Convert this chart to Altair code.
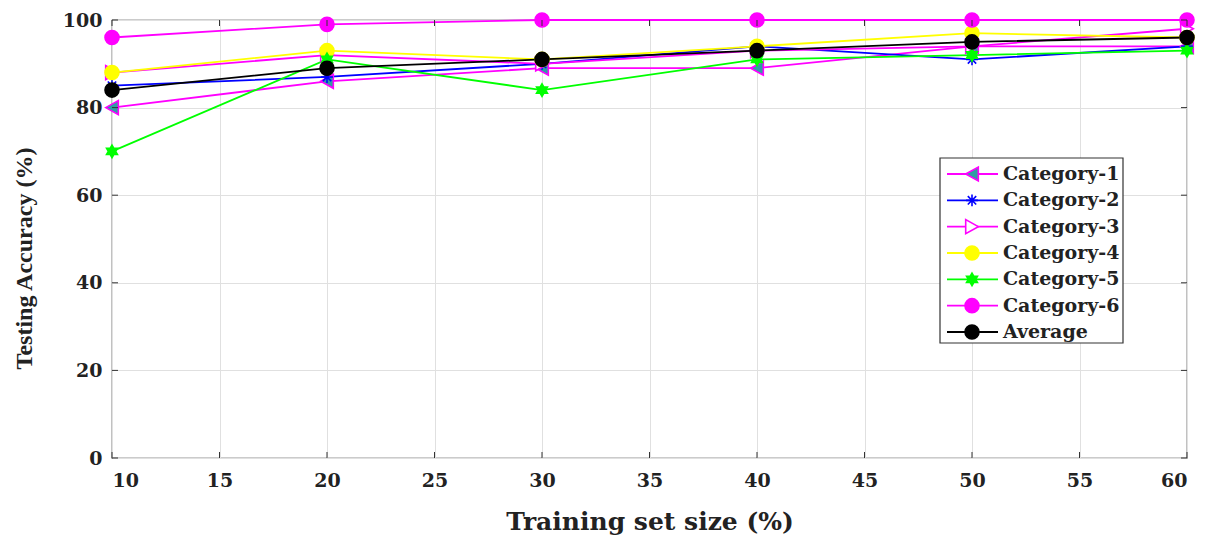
import altair as alt
import pandas as pd

# ---- data ----
train_sizes = [10, 20, 30, 40, 50, 60]
names = ["Category-1", "Category-2", "Category-3", "Category-4", "Category-5", "Category-6", "Average"]
cat1 = [80, 86, 89, 89, 94, 94]
cat2 = [85, 87, 90, 94, 91, 94]
cat3 = [88, 92, 90, 93, 94, 98]
cat4 = [88, 93, 91, 94, 97, 96]
cat5 = [70, 91, 84, 91, 92, 93]
cat6 = [96, 99, 100, 100, 100, 100]
average = [84, 89, 91, 93, 95, 96]

x_ticks = [10, 15, 20, 25, 30, 35, 40, 45, 50, 55, 60]
y_ticks = [0, 20, 40, 60, 80, 100]

# ---- styles ----
line_colors = ["#ff00ff", "#0000ff", "#ff00ff", "#ffff00", "#00ff00", "#ff00ff", "#000000"]
fill_colors = ["#2f9ea3", "transparent", "#ffffff", "#ffff00", "#00ff00", "#ff00ff", "#000000"]
shapes = [
    "M-0.9,0L0.9,-1L0.9,1Z",
    "M0,-0.85V0.85M-0.85,0H0.85M-0.6,-0.6L0.6,0.6M-0.6,0.6L0.6,-0.6",
    "M0.9,0L-0.9,-1L-0.9,1Z",
    "circle",
    "M0,-0.9L0.78,0.45L-0.78,0.45Z M0,0.9L-0.78,-0.45L0.78,-0.45Z",
    "circle",
    "circle",
]
FONT_WIDE = "DejaVu Serif"
FONT_Y = "Liberation Serif"
W, H = 1075, 438

series_values = [cat1, cat2, cat3, cat4, cat5, cat6, average]
rows = []
for name, vals in zip(names, series_values):
    for s, v in zip(train_sizes, vals):
        rows.append({"size": s, "acc": v, "series": name})
df = pd.DataFrame(rows)

x_scale = alt.Scale(domain=[10, 60], nice=False, zero=False)
y_scale = alt.Scale(domain=[0, 100], nice=False)

stroke_enc = alt.Stroke("series:N", scale=alt.Scale(domain=names, range=line_colors), legend=None)
fill_enc = alt.Fill("series:N", scale=alt.Scale(domain=names, range=fill_colors), legend=None)
shape_enc = alt.Shape("series:N", scale=alt.Scale(domain=names, range=shapes), legend=None)

x_enc = alt.X("size:Q", scale=x_scale,
              axis=alt.Axis(values=x_ticks, title="Training set size (%)", grid=True,
                            ticks=False, domain=False, labelPadding=13, titlePadding=19,
                            titleFont=FONT_WIDE, titleFontSize=25))
y_enc = alt.Y("acc:Q", scale=y_scale,
              axis=alt.Axis(values=y_ticks, title="Testing Accuracy (%)", grid=True,
                            ticks=False, domain=False, labelPadding=10, titlePadding=26,
                            titleFont=FONT_Y, titleFontSize=24, titleY=238))

lines = alt.Chart(df).mark_line(strokeWidth=1.8).encode(
    x=x_enc, y=y_enc, stroke=stroke_enc, detail="series:N")
points = alt.Chart(df).mark_point(opacity=1, fillOpacity=1, strokeWidth=1.6, size=196).encode(
    x=alt.X("size:Q", scale=x_scale),
    y=alt.Y("acc:Q", scale=y_scale),
    stroke=stroke_enc, fill=fill_enc, shape=shape_enc)

xt_df = pd.DataFrame({"size": x_ticks})
yt_df = pd.DataFrame({"acc": y_ticks})
tick_color = "#333333"
xt_bottom = alt.Chart(xt_df).mark_rule(color=tick_color).encode(
    x=alt.X("size:Q", scale=x_scale), y=alt.value(H), y2=alt.value(H - 6))
xt_top = alt.Chart(xt_df).mark_rule(color=tick_color).encode(
    x=alt.X("size:Q", scale=x_scale), y=alt.value(0), y2=alt.value(6))
yt_left = alt.Chart(yt_df).mark_rule(color=tick_color).encode(
    y=alt.Y("acc:Q", scale=y_scale), x=alt.value(0), x2=alt.value(6))
yt_right = alt.Chart(yt_df).mark_rule(color=tick_color).encode(
    y=alt.Y("acc:Q", scale=y_scale), x=alt.value(W), x2=alt.value(W - 6))

main = alt.layer(lines, points, xt_bottom, xt_top, yt_left, yt_right)

# ---- legend drawn inside the plot ----
leg_df = pd.DataFrame({"series": names})
leg_y = alt.Y("series:N", sort=names,
              scale=alt.Scale(type="point", domain=names, range=[154, 312], padding=0),
              axis=None)
leg_box = alt.Chart(pd.DataFrame({"k": [0]})).mark_rect(
    fill="white", stroke="#333333", strokeWidth=1.2).encode(
    x=alt.value(828), x2=alt.value(1011), y=alt.value(138), y2=alt.value(323))
leg_rule = alt.Chart(leg_df).mark_rule(strokeWidth=1.8).encode(
    y=leg_y, x=alt.value(835), x2=alt.value(886), stroke=stroke_enc)
leg_pts = alt.Chart(leg_df).mark_point(opacity=1, fillOpacity=1, strokeWidth=1.6, size=196).encode(
    y=leg_y, x=alt.value(860), stroke=stroke_enc, fill=fill_enc, shape=shape_enc)
leg_txt = alt.Chart(leg_df).mark_text(
    align="left", baseline="middle", font=FONT_WIDE, fontSize=19, fontWeight="bold", color="#222222").encode(
    y=leg_y, x=alt.value(891), text="series:N")
legend = alt.layer(leg_box, leg_rule, leg_pts, leg_txt)

chart = alt.layer(main, legend).resolve_scale(y="independent").properties(
    width=W, height=H,
    autosize=alt.AutoSizeParams(type="none"),
    padding={"left": 104, "top": 12, "right": 12, "bottom": 79},
).configure_view(
    stroke="#333333", strokeWidth=1.2
).configure_axis(
    gridColor="#e0e0e0", gridWidth=1,
    labelFont=FONT_WIDE, labelFontSize=19, labelFontWeight="bold", labelColor="#222222",
    titleFontWeight="bold", titleColor="#222222",
)

chart.save("out.html", embed_options={"renderer": "svg", "actions": False})
